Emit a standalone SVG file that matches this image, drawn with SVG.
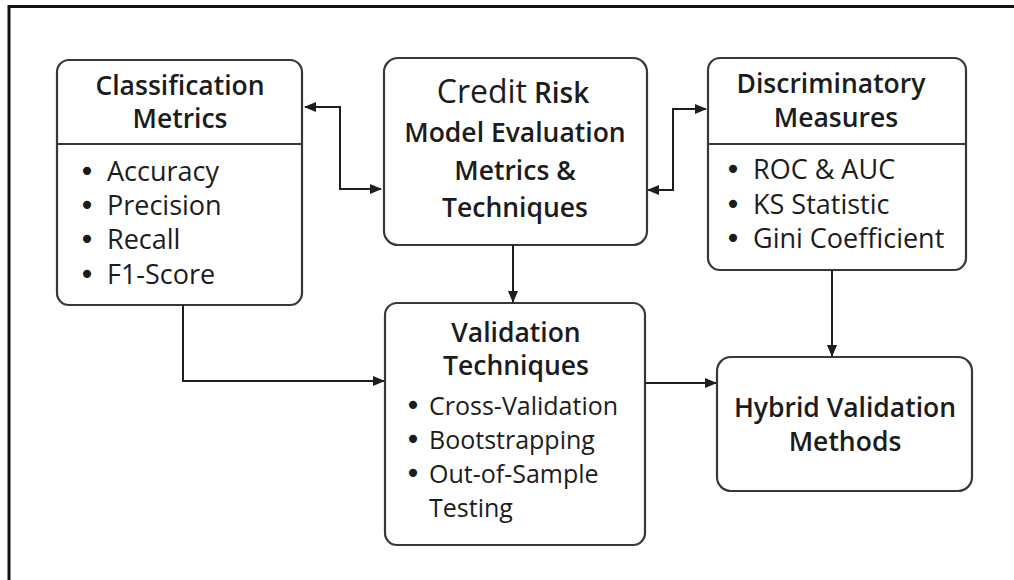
<svg xmlns="http://www.w3.org/2000/svg" width="1014" height="580" viewBox="0 0 1014 580">
  <defs>
    <marker id="arrow" viewBox="0 0 12 10" refX="11" refY="5" markerWidth="12" markerHeight="10" markerUnits="userSpaceOnUse" orient="auto-start-reverse">
      <path d="M0,0 L12,5 L0,10 z" fill="#1e1e1e"/>
    </marker>
  </defs>
  <style>
    .box { fill: #ffffff; stroke: #383838; stroke-width: 2.2; }
    .div { stroke: #383838; stroke-width: 2; }
    .title { font-family: "Open Sans", "Noto Sans", sans-serif; font-weight: 600; font-size: 26.5px; fill: #1c1c1c; text-anchor: middle; }
    .item { font-family: "Open Sans", "Noto Sans", sans-serif; font-weight: 400; font-size: 27px; fill: #1c1c1c; }
    .small { font-size: 25px; }
    .bul { font-family: "DejaVu Sans", sans-serif; font-size: 28px; fill: #1c1c1c; text-anchor: middle; }
    .link { fill: none; stroke: #1e1e1e; stroke-width: 2; }
    .frame { fill: none; stroke: #111111; stroke-width: 3; }
  </style>

  <rect width="1014" height="580" fill="#ffffff"/>
  <path class="frame" d="M9 580 V6.5 H1014"/>

  <g id="classification-metrics">
    <rect class="box" x="57" y="60" width="245" height="245" rx="12"/>
    <line class="div" x1="57" y1="144" x2="302" y2="144"/>
    <text class="title" x="180" y="95">Classification</text>
    <text class="title" x="180" y="128">Metrics</text>
    <text class="bul" x="87" y="181">•</text><text class="item" x="107" y="181">Accuracy</text>
    <text class="bul" x="87" y="215">•</text><text class="item" x="107" y="215">Precision</text>
    <text class="bul" x="87" y="249">•</text><text class="item" x="107" y="249">Recall</text>
    <text class="bul" x="87" y="284">•</text><text class="item" x="107" y="284">F1-Score</text>
  </g>

  <g id="credit-risk-model">
    <rect class="box" x="384" y="58" width="263" height="187" rx="14"/>
    <text class="title" x="513" y="103"><tspan font-weight="500" font-size="32px">Credit</tspan> <tspan font-size="28px">Risk</tspan></text>
    <text class="title" x="515" y="142">Model Evaluation</text>
    <text class="title" x="515" y="180">Metrics &amp;</text>
    <text class="title" x="515" y="217">Techniques</text>
  </g>

  <g id="discriminatory-measures">
    <rect class="box" x="708" y="58" width="258" height="212" rx="12"/>
    <line class="div" x1="708" y1="144" x2="966" y2="144"/>
    <text class="title" x="831" y="93">Discriminatory</text>
    <text class="title" x="836" y="127">Measures</text>
    <text class="bul" x="733" y="179">•</text><text class="item" x="753" y="179">ROC &amp; AUC</text>
    <text class="bul" x="733" y="214">•</text><text class="item" x="753" y="214">KS Statistic</text>
    <text class="bul" x="733" y="248">•</text><text class="item" x="753" y="248">Gini Coefficient</text>
  </g>

  <g id="validation-techniques">
    <rect class="box" x="385" y="303" width="260" height="242" rx="12"/>
    <text class="title" x="516" y="342">Validation</text>
    <text class="title" x="516" y="375">Techniques</text>
    <text class="bul" x="413" y="415">•</text><text class="item small" x="429" y="415">Cross-Validation</text>
    <text class="bul" x="413" y="449">•</text><text class="item small" x="429" y="449">Bootstrapping</text>
    <text class="bul" x="413" y="483">•</text><text class="item small" x="429" y="483">Out-of-Sample</text>
    <text class="item small" x="429" y="517">Testing</text>
  </g>

  <g id="hybrid-validation-methods">
    <rect class="box" x="717" y="357" width="255" height="134" rx="14"/>
    <text class="title" x="845" y="417">Hybrid Validation</text>
    <text class="title" x="845" y="451">Methods</text>
  </g>

  <g id="connectors">
    <path class="link" d="M305 107 H340 V189 H381" marker-start="url(#arrow)" marker-end="url(#arrow)"/>
    <path class="link" d="M706 109 H673 V190 H648" marker-start="url(#arrow)" marker-end="url(#arrow)"/>
    <path class="link" d="M513 245 V302" marker-end="url(#arrow)"/>
    <path class="link" d="M832 270 V356" marker-end="url(#arrow)"/>
    <path class="link" d="M183 305 V381 H384" marker-end="url(#arrow)"/>
    <path class="link" d="M645 383 H716" marker-end="url(#arrow)"/>
  </g>
</svg>
